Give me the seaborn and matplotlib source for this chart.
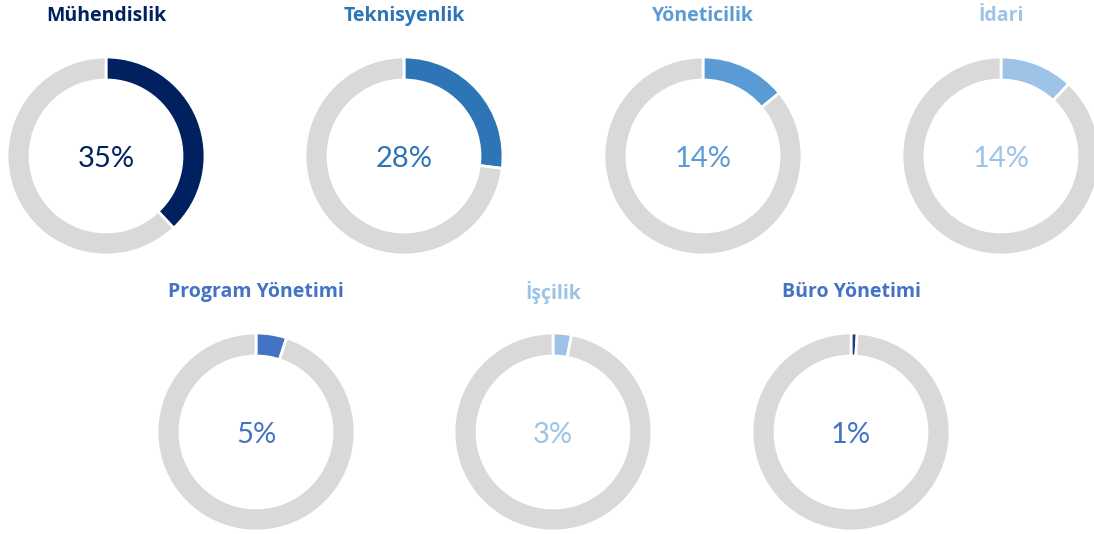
import matplotlib
matplotlib.use("Agg")
import matplotlib.pyplot as plt
import seaborn as sns

# categories, shares drawn on the rings and the printed labels
categories = ["Mühendislik", "Teknisyenlik", "Yöneticilik", "İdari",
              "Program Yönetimi", "İşçilik", "Büro Yönetimi"]
shares = [38, 27, 14, 12, 5, 3, 1]
labels = ["35%", "28%", "14%", "14%", "5%", "3%", "1%"]

title_colors = ["#002060", "#2E75B6", "#5B9BD5", "#9DC3E6",
                "#4472C4", "#9DC3E6", "#4472C4"]
slice_colors = ["#002060", "#2E75B6", "#5B9BD5", "#9DC3E6",
                "#4472C4", "#9DC3E6", "#1F3C88"]
rest_color = "#D9D9D9"

# layout in pixels (x from left, y from top)
centers = [(106, 156), (404, 156), (703, 156), (1001, 156),
           (256, 432), (553, 432), (851, 432)]
title_y = [16, 16, 16, 16, 292, 292, 292]

W, H = 1094, 534
R = 99
RING = 23

sns.set_theme(style="white")
plt.rcParams['font.family'] = ['Lato', 'DejaVu Sans']

fig = plt.figure(figsize=(W / 100, H / 100), dpi=100)
ax = fig.add_axes([0, 0, 1, 1])

for i, name in enumerate(categories):
    cx, cy = centers[i]
    ax.pie([shares[i], 100 - shares[i]],
           colors=[slice_colors[i], rest_color],
           startangle=90, counterclock=False,
           center=(cx, H - cy), radius=R,
           wedgeprops=dict(width=RING, edgecolor="white", linewidth=2))
    ax.text(cx, H - cy - 3, labels[i], ha="center", va="center",
            fontsize=21, color=title_colors[i])
    ax.text(cx, H - title_y[i], name, ha="center", va="center",
            fontsize=14, fontweight="bold", color=title_colors[i],
            family=["Open Sans", "DejaVu Sans"])

ax.set_xlim(0, W)
ax.set_ylim(0, H)
ax.set_aspect("equal")
ax.axis("off")

fig.savefig("out.png", dpi=100, facecolor="white")
